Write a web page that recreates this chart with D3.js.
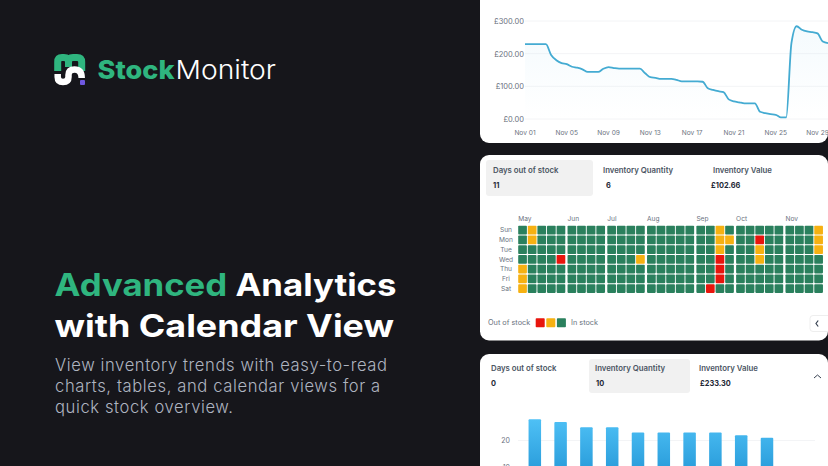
<!DOCTYPE html>
<html>
<head>
<meta charset="utf-8">
<script src="https://cdn.jsdelivr.net/npm/d3@7"></script>
<style>
  html, body { margin: 0; padding: 0; background: #16161b; }
  svg { display: block; }
  text { font-family: Inter, sans-serif; }
</style>
</head>
<body>
<svg id="chart" width="828" height="466"></svg>
<script>
// line chart: stock value, half-day readings from Nov 01
var valueDays = [1,1.5,2,2.5,3,3.5,4,4.5,5,5.5,6,6.5,7,7.5,8,8.5,9,9.5,10,10.5,11,11.5,12,12.5,13,13.5,14,14.5,15,15.5,16,16.5,17,17.5,18,18.5,19,19.5,20,20.5,21,21.5,22,22.5,23,23.5,24,24.5,25,25.5,26,26.5,27,27.5,28,28.5,29,29.5,30];
var stockValues = [229,229,229,229,229,196,180,171,168,160,157,152,144,144,144,154,159,156,154,154,154,154,154,140,128,126,123,123,123,120,115,115,115,115,114,94,89,85,82,60,54,51,48,48,48,22,18,15,13,5,5,232,284,273,268,266,262,237,232];
var valueTicks = [0,100,200,300];
var dayTicks = [1,5,9,13,17,21,25,29];

// calendar: one string per week, Sun..Sat. g in stock, o low, r out of stock
var months = ["May","Jun","Jul","Aug","Sep","Oct","Nov"];
var monthWeeks = [5,4,4,5,4,5,4];
var weekStatus = [
  "ggggooo","ooggggg","ggggggg","ggggggg","gggrggg",
  "ggggggg","ggggggg","ggggggg","ggggggg",
  "ggggggg","ggggggg","ggggggg","gggoggg",
  "ggggggg","ggggggg","ggggggg","ggggggg","ggggggg",
  "ggggggg","ggggggr","ooorrrg","goggggg",
  "ggggggg","ggggggg","grooggg","ggggggg","ggggggg",
  "ggggggg","ggggggg","ggggggg","ooogggg"
];
var weekdays = ["Sun","Mon","Tue","Wed","Thu","Fri","Sat"];

// bar chart: inventory quantity
var barLabels = ["1","2","3","4","5","6","7","8","9","10"];
var barValues = [28,27,25,25,23,23,23,23,22,21];
var barTicks = [10,20];

var svg = d3.select("#chart");
var defs = svg.append("defs");

var barGrad = defs.append("linearGradient").attr("id","barGrad").attr("gradientUnits","userSpaceOnUse")
  .attr("x1",0).attr("y1",418).attr("x2",0).attr("y2",470);
barGrad.append("stop").attr("offset","0%").attr("stop-color","#4fc1f6");
barGrad.append("stop").attr("offset","100%").attr("stop-color","#2a9ddb");

var areaGrad = defs.append("linearGradient").attr("id","areaGrad").attr("x1",0).attr("y1",0).attr("x2",0).attr("y2",1);
areaGrad.append("stop").attr("offset","0%").attr("stop-color","#cfeaf7").attr("stop-opacity",0.22);
areaGrad.append("stop").attr("offset","100%").attr("stop-color","#cfeaf7").attr("stop-opacity",0);

// ---- left side text. Brand font is wider than Inter so stretch to the measured widths
svg.append("text").attr("x",97.5).attr("y",79).attr("font-size",26).attr("font-weight",800).attr("fill","#2fb57f")
  .attr("textLength",77).attr("lengthAdjust","spacingAndGlyphs").text("Stock");
svg.append("text").attr("x",175.5).attr("y",79).attr("font-size",26).attr("font-weight",300).attr("fill","#ffffff")
  .attr("textLength",100.5).attr("lengthAdjust","spacingAndGlyphs").text("Monitor");

// logo mark
svg.append("path").attr("d","M57.7 71 V62 Q57.7 57.5 62 57.5 H64 Q68.5 57.5 68.5 62 V67 M68.5 62 Q68.5 57.5 73 57.5 H77 Q81.7 57.5 81.7 62 V71")
  .attr("fill","none").attr("stroke","#2fb57f").attr("stroke-width",7);
svg.append("path").attr("d","M57.7 74 V77 Q57.7 82 63 82 Q68.5 82 68.5 77 V75 Q68.5 69.5 74.5 69.5 Q81.7 69.5 81.7 78")
  .attr("fill","none").attr("stroke","#ffffff").attr("stroke-width",6.5);
svg.append("rect").attr("x",80).attr("y",80).attr("width",5).attr("height",5).attr("rx",1).attr("fill","#6f58e0");

var head1 = svg.append("text").attr("x",54.5).attr("y",296).attr("font-size",31).attr("font-weight",700).attr("fill","#fff")
  .attr("textLength",342).attr("lengthAdjust","spacingAndGlyphs");
head1.append("tspan").attr("fill","#2fb57f").text("Advanced");
head1.append("tspan").text(" Analytics");
svg.append("text").attr("x",54.5).attr("y",337).attr("font-size",31).attr("font-weight",700).attr("fill","#fff")
  .attr("textLength",339.5).attr("lengthAdjust","spacingAndGlyphs").text("with Calendar View");

var subLines = ["View inventory trends with easy-to-read","charts, tables, and calendar views for a","quick stock overview."];
svg.selectAll(".sub").data(subLines).enter().append("text").attr("class","sub")
  .attr("x",55).attr("y",function (d, i) { return 371 + i * 21; })
  .attr("font-size",16.6).attr("font-weight",300).attr("letter-spacing",0.6).attr("fill","#aeb4c0").text(function (d) { return d; });

// ---- cards
function card(y, h) {
  svg.append("rect").attr("x",480).attr("y",y).attr("width",348).attr("height",h).attr("rx",9).attr("fill","#fff");
}
card(-20, 163);
card(155, 185.5);
card(354, 130);

// ---- line chart
var xDay = d3.scaleLinear().domain([1,30]).range([525,828]);
var yVal = d3.scaleLinear().domain([0,300]).range([119,21]);

var lineG = svg.append("g");
lineG.selectAll(".grid").data(valueTicks).enter().append("line")
  .attr("x1",525).attr("x2",828).attr("y1",yVal).attr("y2",yVal).attr("stroke","#f3f4f6");
lineG.selectAll(".ylab").data(valueTicks).enter().append("text")
  .attr("x",524).attr("y",function (d) { return yVal(d) + 3; }).attr("text-anchor","end")
  .attr("font-size",7.5).attr("fill","#6b7280").text(function (d) { return "£" + d.toFixed(2); });
lineG.selectAll(".xlab").data(dayTicks).enter().append("text")
  .attr("x",function (d) { return xDay(d); }).attr("y",134.5).attr("text-anchor","middle")
  .attr("font-size",6.6).attr("fill","#6b7280").text(function (d) { return "Nov " + d3.format("02")(d); });

var pts = valueDays.map(function (d, i) { return [d, stockValues[i]]; });
lineG.append("path").datum(pts).attr("fill","url(#areaGrad)")
  .attr("d", d3.area().curve(d3.curveMonotoneX).x(function (d) { return xDay(d[0]); }).y0(yVal(0)).y1(function (d) { return yVal(d[1]); }));
lineG.append("path").datum(pts).attr("fill","none").attr("stroke","#44abd2").attr("stroke-width",1.8)
  .attr("d", d3.line().curve(d3.curveMonotoneX).x(function (d) { return xDay(d[0]); }).y(function (d) { return yVal(d[1]); }));

// ---- stat tabs
function stats(tab, items) {
  svg.append("rect").attr("x",tab[0]).attr("y",tab[1]).attr("width",tab[2]).attr("height",tab[3]).attr("rx",3).attr("fill","#f1f1f1");
  items.forEach(function (s) {
    svg.append("text").attr("x",s.x).attr("y",s.y).attr("font-size",7.8).attr("font-weight",600).attr("fill","#4b5563").text(s.label);
    svg.append("text").attr("x",s.vx).attr("y",s.y + 15).attr("font-size",7.4).attr("font-weight",700).attr("fill","#1f2937").text(s.value);
  });
}
stats([486,160,107,36], [
  {label:"Days out of stock", value:"11", x:493, vx:493, y:173.3},
  {label:"Inventory Quantity", value:"6", x:603, vx:606, y:173.3},
  {label:"Inventory Value", value:"£102.66", x:713, vx:711, y:173.3}
]);
stats([589,359,101,34], [
  {label:"Days out of stock", value:"0", x:491, vx:491, y:371},
  {label:"Inventory Quantity", value:"10", x:595, vx:596, y:371},
  {label:"Inventory Value", value:"£233.30", x:699, vx:700, y:371}
]);
svg.append("path").attr("d","M814 378 L817.5 375 L821 378").attr("fill","none").attr("stroke","#374151").attr("stroke-width",1);

// ---- calendar
var xCal = d3.scaleLinear().domain([0,1]).range([518.2,527.8]);
var yCal = d3.scaleBand().domain(weekdays).range([225.7,292.9]).paddingInner(0.1);
var statusColor = d3.scaleOrdinal().domain(["g","o","r"]).range(["#2a805d","#f6b112","#e8150d"]);

var weekRows = [];
var col = 0;
monthWeeks.forEach(function (n, m) {
  for (var k = 0; k < n; k++) {
    weekRows.push({ col: col, month: m, days: weekStatus[col] });
    col++;
  }
});
function weekX(w) { return xCal(w.col + w.month * 0.14); }

var monthStarts = months.map(function (name, m) {
  return { name: name, week: weekRows.filter(function (w) { return w.month === m; })[0] };
});
svg.selectAll(".mon").data(monthStarts).enter().append("text")
  .attr("x",function (d) { return weekX(d.week); }).attr("y",220.5).attr("font-size",6.6).attr("fill","#6b7280").text(function (d) { return d.name; });
svg.selectAll(".wd").data(weekdays).enter().append("text")
  .attr("x",506).attr("y",function (d) { return yCal(d) + yCal.bandwidth() / 2 + 2.4; }).attr("text-anchor","middle")
  .attr("font-size",6.6).attr("fill","#6b7280").text(function (d) { return d; });

var weekG = svg.selectAll(".week").data(weekRows).enter().append("g");
weekG.selectAll("rect").data(function (w) {
  return weekdays.map(function (d, i) { return { x: weekX(w), day: d, status: w.days[i] }; });
}).enter().append("rect")
  .attr("x",function (d) { return d.x; }).attr("y",function (d) { return yCal(d.day); })
  .attr("width",8.7).attr("height",yCal.bandwidth()).attr("rx",0.8)
  .attr("fill",function (d) { return statusColor(d.status); });

// legend
svg.append("text").attr("x",488).attr("y",325).attr("font-size",7.3).attr("fill","#6b7280").text("Out of stock");
svg.selectAll(".leg").data(["r","o","g"]).enter().append("rect")
  .attr("x",function (d, i) { return 535.7 + i * 10.6; }).attr("y",318.3).attr("width",9).attr("height",9).attr("rx",0.8)
  .attr("fill",function (d) { return statusColor(d); });
svg.append("text").attr("x",571).attr("y",325).attr("font-size",7.3).attr("fill","#6b7280").text("In stock");

// scroll button
svg.append("rect").attr("x",810).attr("y",315.5).attr("width",30).attr("height",16).attr("rx",3).attr("fill","#fff").attr("stroke","#eeeeee");
svg.append("path").attr("d","M818.2 320.5 L816 323.5 L818.2 326.5").attr("fill","none").attr("stroke","#374151").attr("stroke-width",1.2);

// ---- bar chart
var xBar = d3.scaleBand().domain(barLabels).range([521.9,779.9]).paddingInner(0.515).paddingOuter(0.258);
var yBar = d3.scaleLinear().domain([10,20]).range([467,440.5]);

svg.selectAll(".bgrid").data(barTicks).enter().append("line")
  .attr("x1",518).attr("x2",815).attr("y1",yBar).attr("y2",yBar).attr("stroke","#f3f4f6");
svg.selectAll(".blab").data(barTicks).enter().append("text")
  .attr("x",510).attr("y",function (d) { return yBar(d) + 2.5; }).attr("text-anchor","end")
  .attr("font-size",7).attr("fill","#6b7280").text(function (d) { return d; });
svg.selectAll(".bar").data(barValues).enter().append("rect")
  .attr("x",function (d, i) { return xBar(barLabels[i]); }).attr("y",yBar)
  .attr("width",xBar.bandwidth()).attr("height",function (d) { return yBar(0) - yBar(d); })
  .attr("rx",1).attr("fill","url(#barGrad)");
</script>
</body>
</html>
